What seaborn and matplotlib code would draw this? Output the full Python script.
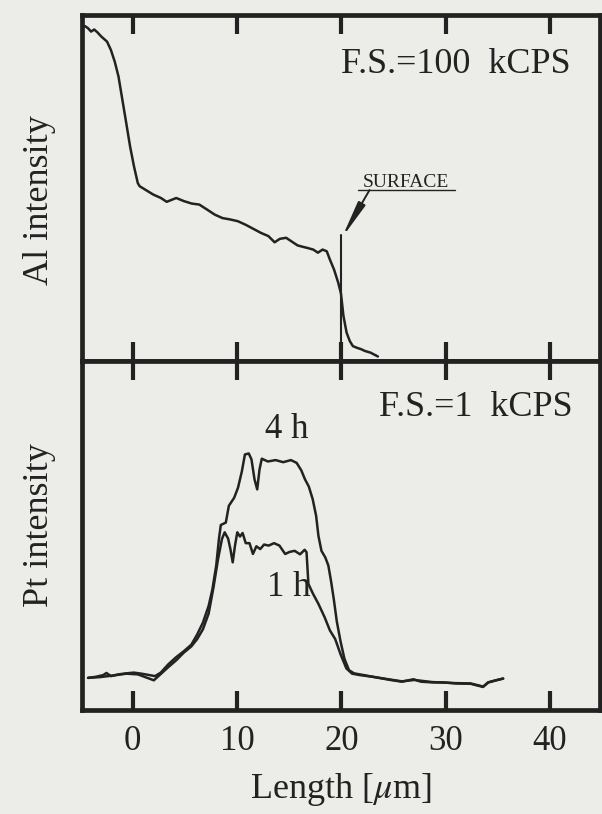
import matplotlib
matplotlib.use('Agg')
import matplotlib.pyplot as plt
import seaborn as sns
import pandas as pd

# --- data ---
al_x = [-4.6, -4.3, -4.0, -3.7, -3.4, -3.03, -2.47, -2.1, -1.73, -1.37, -1.0, -0.63, -0.26,
        0.11, 0.48, 0.66, 1.2, 1.96, 2.7, 3.25, 4.17, 4.9, 5.65, 6.38, 7.1, 7.86, 8.6, 9.34,
        10.07, 10.8, 11.55, 12.3, 13.0, 13.6, 14.1, 14.7, 15.2, 15.8, 16.3, 16.7, 17.3, 17.75,
        18.2, 18.6, 18.9, 19.3, 19.7, 19.96, 20.2, 20.5, 20.8, 21.1, 21.5, 21.9, 22.25, 22.8, 23.5]
al_y = [96.8, 96.2, 95.2, 95.8, 95.0, 93.8, 92.3, 89.9, 86.5, 82.2, 75.5, 68.8, 62.0,
        56.3, 51.4, 50.5, 49.5, 48.1, 47.1, 46.0, 47.1, 46.2, 45.5, 45.2, 43.8, 42.3, 41.3, 40.9,
        40.4, 39.4, 38.2, 37.0, 36.1, 34.3, 35.3, 35.6, 34.6, 33.4, 33.0, 32.7, 32.2, 31.3,
        32.2, 31.7, 29.3, 26.4, 22.6, 19.5, 13.0, 8.2, 5.8, 4.3, 3.8, 3.4, 2.9, 2.4, 1.3]

pt4_x = [-4.29, -3.56, -2.83, -2.53, -2.09, -1.36, -0.62, 0.11, 0.84, 1.58, 2.13, 2.68, 3.41,
         4.15, 4.88, 5.61, 6.17, 6.72, 7.27, 7.63, 8.0, 8.26, 8.44, 8.92, 9.21, 9.72, 10.09,
         10.46, 10.75, 11.12, 11.38, 11.67, 11.93, 12.15, 12.37, 12.95, 13.69, 14.42, 15.16,
         15.71, 16.15, 16.51, 16.88, 17.25, 17.58, 17.8, 18.09, 18.46, 18.75, 19.0, 19.27,
         19.56, 19.93, 20.29, 20.73, 21.21, 22.13, 23.23, 23.96, 24.7, 25.8, 26.9, 27.63,
         28.73, 29.83, 30.94, 32.4, 33.58, 34.06, 34.79, 35.52]
pt4_y = [9.2, 9.5, 10.0, 10.6, 9.7, 10.2, 10.5, 10.7, 10.4, 10.0, 9.7, 10.7, 13.1,
         15.1, 16.8, 18.7, 21.6, 25.0, 29.8, 34.5, 41.4, 49.0, 53.0, 53.7, 58.5, 60.8, 63.7,
         68.4, 73.2, 73.5, 71.8, 66.1, 63.2, 68.9, 72.0, 71.2, 71.6, 71.0, 71.6,
         70.8, 68.7, 66.1, 64.0, 60.4, 55.6, 49.9, 45.6, 43.7, 41.4, 37.1, 31.8,
         25.4, 19.5, 14.7, 11.4, 10.5, 10.0, 9.4, 9.0, 8.6, 8.1, 8.8, 8.1,
         7.9, 7.9, 7.6, 7.5, 6.6, 7.9, 8.5, 9.0]

pt1_x = [-4.29, -3.19, -2.09, -0.62, 0.48, 1.39, 2.02, 2.68, 3.41, 4.15, 4.88, 5.61, 6.17,
         6.72, 7.27, 7.74, 8.18, 8.55, 8.81, 9.14, 9.36, 9.58, 9.8, 10.02, 10.28, 10.53,
         10.83, 11.19, 11.52, 11.85, 12.22, 12.59, 13.03, 13.54, 14.06, 14.61, 15.05, 15.52,
         16.04, 16.48, 16.66, 16.84, 17.28, 17.8, 18.39, 18.9, 19.41, 19.93, 20.48, 21.03,
         21.76, 23.0, 24.5, 25.8, 27.0, 28.7, 30.9, 32.4, 33.6, 34.1, 35.5]
pt1_y = [9.2, 9.4, 9.8, 10.4, 10.2, 9.2, 8.5, 10.3, 12.3, 14.2, 16.4, 18.2, 20.3,
         23.1, 27.6, 35.2, 43.3, 49.0, 50.9, 49.1, 46.1, 42.3, 47.1, 50.9, 49.7, 50.7,
         47.8, 47.8, 44.7, 46.9, 46.1, 47.4, 47.1, 47.8, 47.1, 44.7, 45.3, 45.6,
         44.6, 45.9, 45.2, 36.1, 33.3, 30.4, 26.6, 22.8, 20.3, 15.9, 11.9, 10.4,
         10.0, 9.5, 8.8, 8.2, 8.6, 8.0, 7.7, 7.6, 6.7, 7.9, 9.0]

x_ticks = [0, 10, 20, 30, 40]
surface_x = 20
surface_top = 36.5

paper = '#ecece9'
ink = '#222222'

sns.set_theme(style='white')
plt.rcParams['font.family'] = ['Liberation Serif', 'DejaVu Serif']
plt.rcParams['mathtext.fontset'] = 'stix'

fig = plt.figure(figsize=(6.02, 8.14), dpi=100, facecolor=paper)
gs = fig.add_gridspec(2, 1, height_ratios=[346, 349], hspace=0,
                      left=0.1357, right=0.9967, top=0.9816, bottom=0.1278)
ax1 = fig.add_subplot(gs[0])
ax2 = fig.add_subplot(gs[1], sharex=ax1)

al = pd.DataFrame({'x': al_x, 'y': al_y})
sns.lineplot(data=al, x='x', y='y', ax=ax1, color=ink, lw=1.8, sort=False)

pt = pd.concat([
    pd.DataFrame({'x': pt4_x, 'y': pt4_y, 'time': '4 h'}),
    pd.DataFrame({'x': pt1_x, 'y': pt1_y, 'time': '1 h'}),
])
sns.lineplot(data=pt, x='x', y='y', units='time', estimator=None, ax=ax2,
             color=ink, lw=1.8, sort=False)

for ax in (ax1, ax2):
    ax.set_facecolor(paper)
    ax.set_xlim(-4.9, 44.8)
    ax.set_ylim(0, 100)
    ax.set_xticks(x_ticks)
    ax.set_yticks([])
    ax.tick_params(axis='x', direction='in', top=True, bottom=True, length=14,
                   width=3, color=ink, labelsize=25, labelcolor=ink, pad=11)
    for s in ax.spines.values():
        s.set_linewidth(3.4)
        s.set_color(ink)
    ax.set_xlabel('')

ax1.tick_params(axis='x', labelbottom=False)

ax1.set_ylabel('Al intensity', fontsize=26, color=ink)
ax1.yaxis.set_label_coords(-0.05, 0.465)
ax2.set_ylabel('Pt intensity', fontsize=26, color=ink)
ax2.yaxis.set_label_coords(-0.05, 0.53)
ax2.set_xlabel(r'Length [$\mu$m]', fontsize=26, color=ink, labelpad=9)

# annotations
ax1.text(42.0, 85.8, 'F.S.=100  kCPS', fontsize=26, color=ink, ha='right', va='center')
ax2.text(42.2, 86.8, 'F.S.=1  kCPS', fontsize=26, color=ink, ha='right', va='center')
ax2.text(14.8, 80.5, '4 h', fontsize=25, color=ink, ha='center', va='center')
ax2.text(15.0, 35.2, '1 h', fontsize=25, color=ink, ha='center', va='center')

ax1.text(26.2, 50.3, 'SURFACE', fontsize=14, color=ink, ha='center', va='baseline')
ax1.plot([21.6, 30.9], [49.4, 49.4], color=ink, lw=1.0)
ax1.plot([surface_x, surface_x], [0, surface_top], color=ink, lw=1.5)
ax1.annotate('', xy=(20.05, 35.6), xytext=(22.7, 49.4),
             arrowprops=dict(arrowstyle='-|>,head_length=1.1,head_width=0.12',
                             color=ink, lw=1.4, shrinkA=0, shrinkB=0, mutation_scale=20))

fig.savefig('out.png', dpi=100, facecolor=paper)
